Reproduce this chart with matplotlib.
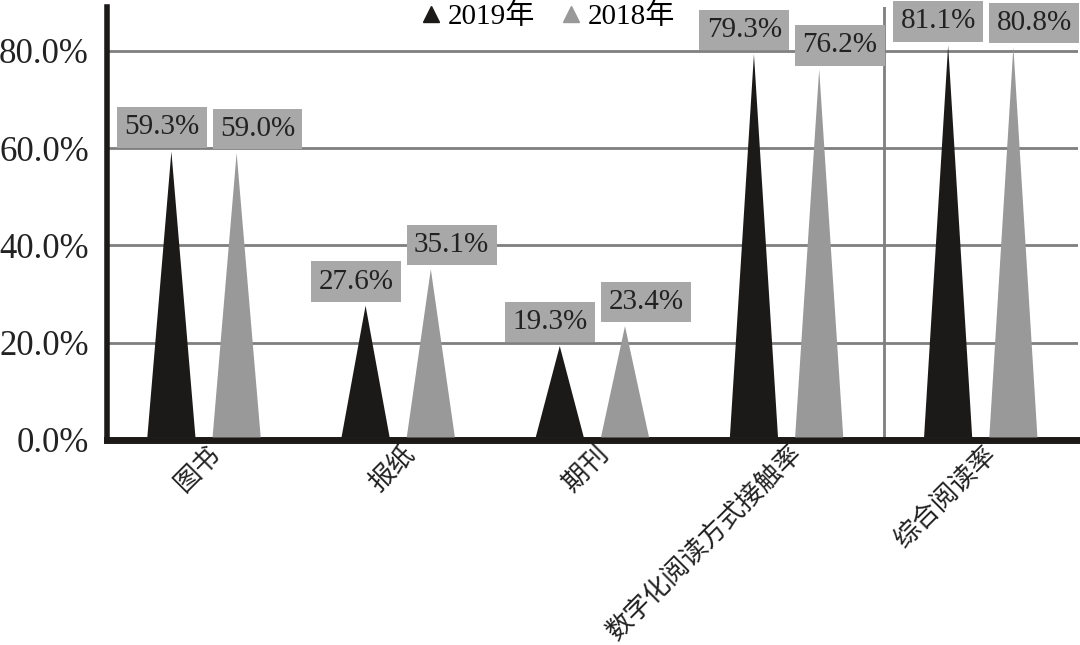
import numpy as np
import matplotlib.pyplot as plt
import matplotlib.transforms as mtransforms
from matplotlib.lines import Line2D

plt.rcParams['font.family'] = ['Liberation Serif', 'Noto Sans CJK SC']

# data
categories = ['图书', '报纸', '期刊', '数字化阅读方式接触率', '综合阅读率']
v2019 = [59.3, 27.6, 19.3, 79.3, 81.1]
v2018 = [59.0, 35.1, 23.4, 76.2, 80.8]
series_names = ['2019年', '2018年']

c19 = '#1c1a19'
c18 = '#999999'
box_col = '#a8a8a8'

fig = plt.figure(figsize=(10.8, 6.45), dpi=100)
ax = fig.add_axes([0.099, 0.318, 0.899, 0.671])

x = np.arange(len(categories))
off = 0.168   # half distance between the two spikes
hw = 0.124    # half base width of a spike

for i in range(len(categories)):
    for xc, v, col, dx in [(x[i] - off, v2019[i], c19, -7), (x[i] + off, v2018[i], c18, 15)]:
        ax.fill([xc - hw, xc, xc + hw], [0.5, v, 0.5], color=col, lw=0, zorder=3)
        ax.annotate(f'{v:.1f}%', xy=(xc, v), xytext=(dx, 8), textcoords='offset points',
                    ha='center', va='bottom', fontsize=21, color='#222222', zorder=5,
                    bbox=dict(boxstyle='square,pad=0.25', fc=box_col, ec='none'))

ax.set_xlim(-0.5, len(categories) - 0.5)
ax.set_ylim(0, 89)
ax.set_yticks([0, 20, 40, 60, 80])
ax.set_yticklabels([f'{t:.1f}%' for t in [0, 20, 40, 60, 80]], fontsize=25, color='#222222')
ax.yaxis.grid(True, color='#7f7f7f', lw=2)
ax.set_axisbelow(True)
ax.axvline(3.5, color='#7f7f7f', lw=2, zorder=1)

ax.set_xticks(x)
ax.set_xticklabels(categories, rotation=45, ha='right', va='center', rotation_mode='anchor',
                   fontsize=19, family=['Noto Sans CJK SC'], color='#222222')
ax.tick_params(axis='y', length=0, pad=13)
ax.tick_params(axis='x', length=0, pad=0)
shift = mtransforms.ScaledTranslation(12 / 100, -10 / 100, fig.dpi_scale_trans)
for lab in ax.get_xticklabels():
    lab.set_transform(lab.get_transform() + shift)

for s in ['top', 'right']:
    ax.spines[s].set_visible(False)
ax.spines['left'].set_linewidth(4)
ax.spines['bottom'].set_linewidth(5)
ax.spines['left'].set_color('#1c1a19')
ax.spines['bottom'].set_color('#1c1a19')

handles = [Line2D([], [], marker='^', ls='none', color=c19, markersize=12),
           Line2D([], [], marker='^', ls='none', color=c18, markersize=12)]
ax.legend(handles, series_names, loc='center', bbox_to_anchor=(0.455, 0.977),
          ncol=2, frameon=False, handlelength=0.6, handletextpad=0.3, columnspacing=0.9,
          borderpad=0, prop={'family': ['Liberation Serif', 'Noto Sans CJK SC'], 'size': 21})

fig.savefig('out.png', dpi=100)
